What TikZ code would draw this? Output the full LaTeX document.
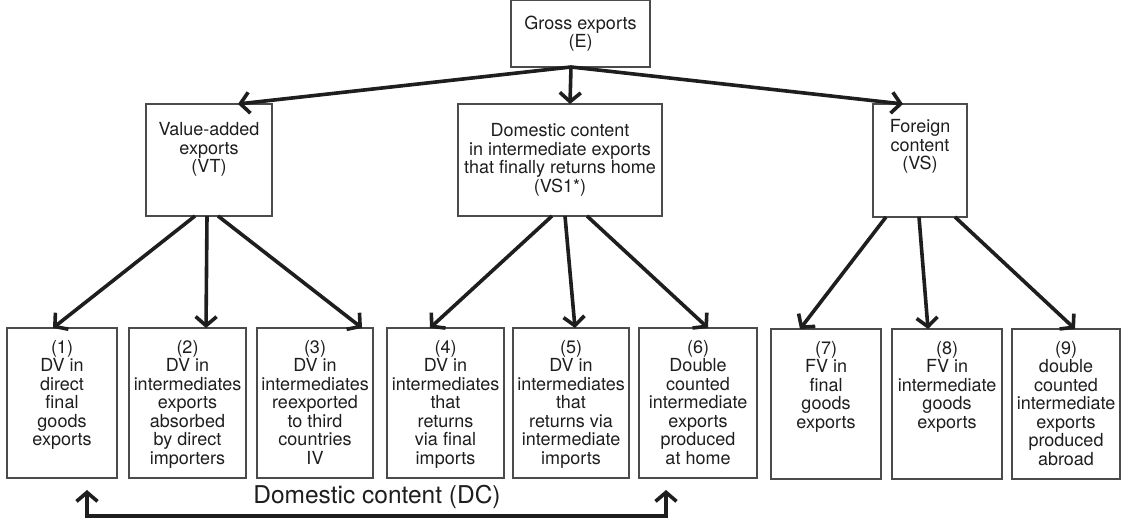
\documentclass[tikz,border=0pt]{standalone}
\usepackage{fontspec}
\setmainfont{TeX Gyre Heros}
\usetikzlibrary{arrows.meta, positioning}
\definecolor{boxgrey}{RGB}{75,75,75}
\definecolor{inkdark}{RGB}{30,30,30}

\begin{document}
\begin{tikzpicture}[
    x=1pt, y=-1pt,
    box/.style={rectangle, draw=boxgrey, line width=1.2pt, inner sep=0pt, outer sep=0pt},
    txt/.style={align=center, inner sep=0pt, text=inkdark, font=\fontsize{18}{18.5}\selectfont},
    arrow/.style={-{Straight Barb[length=9pt, width=21pt]}, line width=3.6pt, draw=inkdark},
    dclabel/.style={inner sep=0pt, text=inkdark, font=\fontsize{24.5}{28}\selectfont}
]
\useasboundingbox (0,0) rectangle (1121,525);

% Top level
\node[box, txt, minimum width=139pt, minimum height=66.5pt] (gross) at (580.5,33.75) {Gross exports\\(E)};

% Second level
\node[box, minimum width=126pt, minimum height=112pt] (vt) at (209,160) {};
\node[txt, below=18.6pt of vt.north] (vtlabel) {Value-added\\exports\\(VT)};
\node[box, minimum width=204pt, minimum height=112pt] (vsone) at (560,160) {};
\node[txt, below=19.6pt of vsone.north] (vsonelabel) {Domestic content\\in intermediate exports\\that finally returns home\\(VS1*)};
\node[box, minimum width=94pt, minimum height=113pt] (vs) at (920,160.5) {};
\node[txt, below=15.6pt of vs.north] (vslabel) {Foreign\\content\\(VS)};

% Bottom level
\node[box, minimum width=110pt, minimum height=150pt] (b1) at (62,403) {};
\node[txt, below=12pt of b1.north] (b1label) {(1)\\DV in\\direct\\final\\goods\\exports};
\node[box, minimum width=117pt, minimum height=150pt] (b2) at (187.5,403) {};
\node[txt, below=12pt of b2.north] (b2label) {(2)\\DV in\\intermediates\\exports\\absorbed\\by direct\\importers};
\node[box, minimum width=116pt, minimum height=150pt] (b3) at (315,403) {};
\node[txt, below=12pt of b3.north] (b3label) {(3)\\DV in\\intermediates\\reexported\\to third\\countries\\IV};
\node[box, minimum width=117pt, minimum height=150pt] (b4) at (445.5,403) {};
\node[txt, below=12pt of b4.north] (b4label) {(4)\\DV in\\intermediates\\that\\returns\\via final\\imports};
\node[box, minimum width=116pt, minimum height=150pt] (b5) at (571,403) {};
\node[txt, below=12pt of b5.north] (b5label) {(5)\\DV in\\intermediates\\that\\returns via\\intermediate\\imports};
\node[box, minimum width=118pt, minimum height=150pt] (b6) at (698,403) {};
\node[txt, below=12pt of b6.north] (b6label) {(6)\\Double\\counted\\intermediate\\exports\\produced\\at home};
\node[box, minimum width=110pt, minimum height=150pt] (b7) at (826,404) {};
\node[txt, below=12pt of b7.north] (b7label) {(7)\\FV in\\final\\goods\\exports};
\node[box, minimum width=110pt, minimum height=150pt] (b8) at (947,404) {};
\node[txt, below=12pt of b8.north] (b8label) {(8)\\FV in\\intermediate\\goods\\exports};
\node[box, minimum width=108pt, minimum height=150pt] (b9) at (1066,404) {};
\node[txt, below=12pt of b9.north] (b9label) {(9)\\double\\counted\\intermediate\\exports\\produced\\abroad};

% Arrows from gross exports
\draw[arrow] ([xshift=-9.5pt]gross.south) -- ([xshift=29pt]vt.north);
\draw[arrow] ([xshift=-9.5pt]gross.south) -- ([xshift=10pt]vsone.north);
\draw[arrow] ([xshift=-9.5pt]gross.south) -- ([xshift=-17pt]vs.north);

% Arrows from VT
\draw[arrow] ([xshift=-14pt]vt.south) -- ([xshift=-9pt]b1.north);
\draw[arrow] ([xshift=-2pt]vt.south) -- ([xshift=18.5pt]b2.north);
\draw[arrow] ([xshift=9pt]vt.south) -- ([xshift=47pt]b3.north);

% Arrows from VS1*
\draw[arrow] ([xshift=-8pt]vsone.south) -- ([xshift=-15.5pt]b4.north);
\draw[arrow] ([xshift=5pt]vsone.south) -- ([xshift=4pt]b5.north);
\draw[arrow] ([xshift=27pt]vsone.south) -- ([xshift=10pt]b6.north);

% Arrows from VS
\draw[arrow] ([xshift=-34pt]vs.south) -- ([xshift=-26pt]b7.north);
\draw[arrow] ([xshift=-1pt]vs.south) -- ([xshift=-19pt]b8.north);
\draw[arrow] ([xshift=35pt]vs.south) -- ([xshift=9pt]b9.north);

% Domestic content bracket
\coordinate (dcleft) at (87,490);
\coordinate (dcright) at (666,490);
\draw[arrow, {Straight Barb[length=9pt, width=21pt]}-{Straight Barb[length=9pt, width=21pt]}] (dcleft) -- ++(0,26) -| (dcright);
\node[dclabel] (dctext) at (377,497) {Domestic content (DC)};

\end{tikzpicture}
\end{document}
